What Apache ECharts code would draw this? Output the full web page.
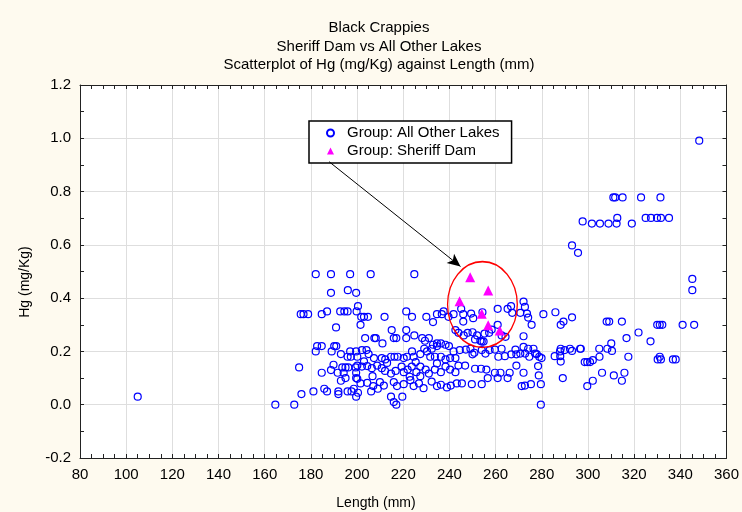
<!DOCTYPE html>
<html>
<head>
<meta charset="utf-8">
<script src="https://cdn.jsdelivr.net/npm/echarts@6/dist/echarts.min.js"></script>
<style>
  html, body { margin: 0; padding: 0; background: #fefaef; }
  #chart { width: 742px; height: 512px; }
</style>
</head>
<body>
<div id="chart"></div>
<script>
// Hg (mg/Kg) against Length (mm), black crappies
const titleLines = ['Black Crappies', 'Sheriff Dam vs All Other Lakes', 'Scatterplot of Hg (mg/Kg) against Length (mm)'];
const seriesNames = ['Group: All Other Lakes', 'Group: Sheriff Dam'];
const xTicks = { min: 80, max: 360, step: 20 };
const yTicks = { min: -0.2, max: 1.2, step: 0.2 };

// [length, hg]
const otherLakes = [
  [105, 0.03], [164.6, 0], [172.8, 0],
  [182.1, 0.49], [188.7, 0.49], [197, 0.49], [205.9, 0.49], [224.8, 0.49],
  [188.7, 0.42], [196, 0.43], [199.6, 0.42], [200.4, 0.37],
  [175.6, 0.34], [176.8, 0.34], [178.8, 0.34], [184.7, 0.34], [187, 0.35], [192.7, 0.35], [194.5, 0.35], [195.9, 0.35], [199.8, 0.35],
  [190.9, 0.29], [182.7, 0.22], [184.7, 0.22], [190.1, 0.22], [191, 0.22],
  [182.1, 0.2], [189, 0.2], [193, 0.19], [197, 0.2], [195.9, 0.18], [197.3, 0.18], [199.6, 0.2], [200.1, 0.18],
  [174.9, 0.14], [184.7, 0.12], [188.7, 0.13], [189.8, 0.15], [191.6, 0.12], [193.6, 0.14], [195, 0.14], [196.2, 0.14],
  [194.2, 0.12], [195, 0.1], [193, 0.09], [199.4, 0.14], [199.6, 0.12], [199.6, 0.1],
  [175.9, 0.04], [181.1, 0.05], [185.8, 0.06], [187, 0.05], [191.9, 0.05], [191.9, 0.04], [195.9, 0.05], [197.6, 0.05], [198.6, 0.06], [199.6, 0.03],
  [201.8, 0.33], [203, 0.33], [204.7, 0.33], [201.5, 0.3], [211.9, 0.33], [221.3, 0.35], [223.8, 0.33], [230, 0.33], [232.9, 0.31],
  [234.6, 0.34], [236.7, 0.34], [237.5, 0.35], [239.6, 0.33], [241.8, 0.34], [242.6, 0.28], [215, 0.28], [221.3, 0.28],
  [203.5, 0.25], [207.5, 0.25], [208.1, 0.25], [211, 0.23], [215.9, 0.25], [217, 0.25], [221.3, 0.25], [224.8, 0.26], [228.2, 0.25],
  [229.4, 0.24], [231.1, 0.25], [232.9, 0.225], [234.6, 0.23], [236.3, 0.23], [238.3, 0.225], [239.8, 0.22],
  [202.1, 0.205], [204.1, 0.205], [205, 0.19], [207.3, 0.175], [210.7, 0.175], [212.2, 0.17], [214.7, 0.18], [216.2, 0.18], [217.6, 0.18],
  [220.2, 0.175], [221.6, 0.18], [223.8, 0.2], [224.5, 0.18], [227.4, 0.19], [229.1, 0.21], [230.3, 0.2], [232.4, 0.21], [234.6, 0.22],
  [231.7, 0.18], [233.7, 0.18], [236.3, 0.18], [238.3, 0.17], [240.3, 0.175], [241.8, 0.2], [242.6, 0.175],
  [203, 0.163], [213, 0.157], [225.4, 0.16], [234.6, 0.155],
  [200.1, 0.147], [202.1, 0.143], [204.4, 0.145], [206.4, 0.137], [208.7, 0.147], [210.7, 0.137], [212.1, 0.127], [214.7, 0.117],
  [216.7, 0.127], [219.3, 0.143], [220.2, 0.122], [221.9, 0.132], [223.7, 0.143], [225.7, 0.122], [227.4, 0.143], [229.7, 0.132],
  [231.1, 0.117], [233.7, 0.132], [236.3, 0.122], [238.3, 0.143], [240.3, 0.132], [242.6, 0.122],
  [206.7, 0.107], [222.8, 0.105], [227.4, 0.107],
  [200.1, 0.097], [201.5, 0.08], [204.4, 0.082], [207, 0.07], [209.9, 0.085], [211.6, 0.072], [215.9, 0.085], [217.3, 0.07], [220.2, 0.077],
  [223.1, 0.092], [224.5, 0.07], [226.8, 0.08], [228.8, 0.062], [232.3, 0.087], [234.6, 0.07], [236.3, 0.075], [238.9, 0.065], [240.6, 0.072], [243.2, 0.08],
  [200.4, 0.045], [206.1, 0.05], [209, 0.06], [214.7, 0.03], [219.6, 0.03], [215.9, 0.01], [217, 0],
  [245.1, 0.36], [246, 0.34], [246, 0.312], [249.4, 0.342], [250.3, 0.325], [254.3, 0.347], [260.9, 0.36], [265.2, 0.36], [266.7, 0.37],
  [267.2, 0.345], [270.7, 0.345], [272.1, 0.387], [272.7, 0.367], [273.6, 0.342], [274.1, 0.327], [275.6, 0.3], [280.7, 0.34],
  [285.9, 0.347], [288.2, 0.3], [289.4, 0.312],
  [243.9, 0.27], [246.2, 0.26], [247.9, 0.27], [250, 0.272], [252, 0.26], [254, 0.237], [255.2, 0.267], [257.2, 0.27], [258.3, 0.282],
  [260.9, 0.3], [262.6, 0.26], [264.3, 0.255], [251.1, 0.245], [253.4, 0.24], [254.8, 0.237], [272.1, 0.257],
  [244.5, 0.205], [247.1, 0.207], [249.1, 0.21], [250.8, 0.195], [254, 0.205], [257.4, 0.205], [259.7, 0.207], [262.6, 0.21], [264, 0.182],
  [268.6, 0.207], [272.1, 0.217], [274.1, 0.21], [276.4, 0.21], [277.8, 0.19], [279.9, 0.175], [285.6, 0.182], [287.9, 0.2], [289.9, 0.205],
  [250, 0.189], [255.6, 0.192], [261.2, 0.18], [266.8, 0.189], [269, 0.189], [270.7, 0.192], [272.8, 0.192], [274.6, 0.18], [277.1, 0.192], [278.9, 0.18],
  [243.9, 0.147], [246.8, 0.147], [251.1, 0.135], [253.7, 0.135], [256, 0.132], [259.7, 0.12], [262.1, 0.12], [266.1, 0.12], [269, 0.147],
  [272.1, 0.12], [278.4, 0.145], [278.7, 0.11],
  [245.4, 0.08], [249.7, 0.077], [254, 0.077], [256.6, 0.1], [260.9, 0.1], [265.2, 0.1], [271.3, 0.07], [272.7, 0.072], [275.3, 0.077],
  [279.6, 0.077], [289.1, 0.1], [279.6, 0],
  [345.2, 0.472], [345.2, 0.43], [293.1, 0.328], [308.1, 0.312], [309.2, 0.312], [314.7, 0.312], [316.7, 0.25], [321.9, 0.271], [327.1, 0.238],
  [330, 0.3], [331.1, 0.3], [332.2, 0.3], [341, 0.3], [346, 0.3],
  [288.2, 0.21], [292.2, 0.21], [293.1, 0.202], [296.6, 0.21], [296.9, 0.21], [288, 0.182], [288.2, 0.162], [304.9, 0.21], [308.4, 0.21],
  [310.1, 0.23], [310.4, 0.202], [305, 0.18], [298.6, 0.16], [299.7, 0.16], [300.9, 0.16], [302.1, 0.167], [317.5, 0.18],
  [330.2, 0.17], [331.1, 0.18], [331.6, 0.17], [336.8, 0.17], [338, 0.17],
  [306.1, 0.12], [311.2, 0.11], [315.8, 0.12], [302.1, 0.09], [299.7, 0.07], [314.7, 0.09],
  [348.2, 0.991], [311, 0.778], [311.8, 0.778], [315, 0.778], [323, 0.778], [331.4, 0.778],
  [297.7, 0.688], [301.7, 0.68], [305.2, 0.68], [308.9, 0.68], [312.4, 0.68], [312.7, 0.701], [319, 0.68],
  [325, 0.701], [327.3, 0.701], [329.9, 0.701], [331.6, 0.701], [335.1, 0.701], [293.1, 0.598], [295.7, 0.57]
];

const sheriffDam = [
  [249.0, 0.478], [256.8, 0.429], [244.4, 0.388], [254.0, 0.341], [256.8, 0.298], [261.8, 0.279]
];

// annotation, in data units
const arrowFrom = [187.9, 0.912];
const arrowTo = [244.8, 0.519];
const ellipseCenter = [254.3, 0.376];
const ellipseRadius = [15.1, 0.161];

const FONT = '"Liberation Sans", Arial, sans-serif';
const chart = echarts.init(document.getElementById('chart'));

function axisFrame(extra) {
  return Object.assign({
    type: 'value',
    axisLine: { show: true, onZero: false, lineStyle: { color: '#222', width: 1 } },
    axisTick: { show: true, inside: true, length: 4, lineStyle: { color: '#222' } },
    splitLine: { show: false }
  }, extra);
}

const option = {
  animation: false,
  backgroundColor: '#fefaef',
  grid: {
    left: 80, right: 13, top: 85, bottom: 54,
    show: true, backgroundColor: '#ffffff', borderWidth: 0
  },
  legend: {
    data: seriesNames,
    orient: 'vertical',
    left: 309, top: 121,
    padding: [4, 12, 4, 17],
    itemGap: 2,
    itemWidth: 7, itemHeight: 7,
    selectedMode: false,
    backgroundColor: '#ffffff',
    borderColor: '#000', borderWidth: 1.5,
    textStyle: { fontFamily: FONT, fontSize: 15, color: '#000', lineHeight: 16, padding: [0, 0, 0, 8] }
  },
  xAxis: [
    axisFrame({
      min: xTicks.min, max: xTicks.max, interval: xTicks.step,
      minorTick: { show: true, splitNumber: 4, length: 4, lineStyle: { color: '#222' } },
      axisLabel: { fontFamily: FONT, fontSize: 15, color: '#000', margin: 9 },
      splitLine: { show: true, lineStyle: { color: '#dedede', width: 1 } }
    }),
    axisFrame({
      position: 'top',
      min: xTicks.min, max: xTicks.max, interval: xTicks.step,
      minorTick: { show: true, splitNumber: 4, length: 4, lineStyle: { color: '#222' } },
      axisLabel: { show: false }
    })
  ],
  yAxis: [
    axisFrame({
      min: yTicks.min, max: yTicks.max, interval: yTicks.step,
      minorTick: { show: true, splitNumber: 2, length: 4, lineStyle: { color: '#222' } },
      axisLabel: { fontFamily: FONT, fontSize: 15, color: '#000', margin: 9, formatter: v => v.toFixed(1) },
      splitLine: { show: true, lineStyle: { color: '#dedede', width: 1 } }
    }),
    axisFrame({
      position: 'right',
      min: yTicks.min, max: yTicks.max, interval: yTicks.step,
      minorTick: { show: true, splitNumber: 2, length: 4, lineStyle: { color: '#222' } },
      axisLabel: { show: false }
    })
  ],
  series: [
    {
      name: seriesNames[0],
      type: 'scatter',
      symbol: 'circle',
      symbolSize: 7,
      data: otherLakes,
      itemStyle: { color: 'rgba(0,0,0,0)', borderColor: '#0000ff', borderWidth: 1.2, opacity: 1 },
      emphasis: { disabled: true }
    },
    {
      name: seriesNames[1],
      type: 'scatter',
      symbol: 'triangle',
      symbolSize: 10,
      data: sheriffDam,
      itemStyle: { color: '#ff00ff', opacity: 1 },
      emphasis: { disabled: true },
      markLine: {
        silent: true,
        symbol: ['none', 'arrow'],
        symbolSize: [9, 13],
        label: { show: false },
        lineStyle: { color: '#000', width: 1, type: 'solid' },
        emphasis: { disabled: true },
        data: [[{ coord: arrowFrom }, { coord: arrowTo }]]
      }
    }
  ]
};

chart.setOption(option);

const c = chart.convertToPixel({ seriesIndex: 0 }, ellipseCenter);
const e = chart.convertToPixel({ seriesIndex: 0 }, [ellipseCenter[0] + ellipseRadius[0], ellipseCenter[1] + ellipseRadius[1]]);
const rx = e[0] - c[0];
const ry = c[1] - e[1];

chart.setOption({
  graphic: [
    {
      type: 'text', x: 379, y: 19,
      style: {
        text: titleLines.join('\n'), font: '15px ' + FONT, fill: '#000',
        lineHeight: 18.5, align: 'center', textAlign: 'center'
      }
    },
    {
      type: 'text', x: 376, y: 503,
      style: { text: 'Length (mm)', font: '14px ' + FONT, fill: '#000', align: 'center', verticalAlign: 'middle', textAlign: 'center', textVerticalAlign: 'middle' }
    },
    {
      type: 'text', x: 25, y: 282, rotation: Math.PI / 2,
      style: { text: 'Hg (mg/Kg)', font: '14px ' + FONT, fill: '#000', align: 'center', verticalAlign: 'middle', textAlign: 'center', textVerticalAlign: 'middle' }
    },
    {
      type: 'circle', x: c[0], y: c[1], scaleY: ry / rx, z: 10,
      shape: { cx: 0, cy: 0, r: rx },
      style: { fill: null, stroke: '#ff0000', lineWidth: 1.3, strokeNoScale: true }
    }
  ]
});

window.addEventListener('resize', () => chart.resize());
</script>
</body>
</html>
